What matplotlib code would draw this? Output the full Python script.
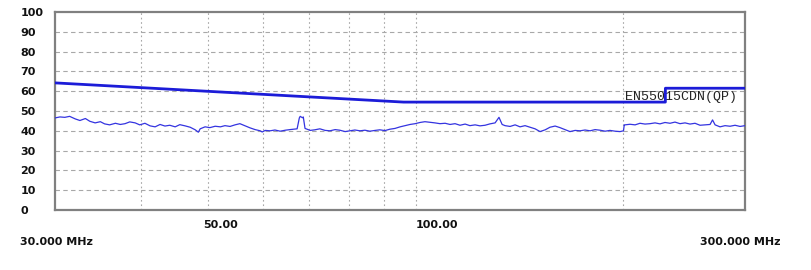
import matplotlib
matplotlib.use("Agg")
import matplotlib.pyplot as plt

freq = [30.0, 30.5, 31.0, 31.5, 32.1, 32.6, 33.2, 33.7, 34.3, 34.9,
        35.4, 36.0, 36.7, 37.3, 37.9, 38.5, 39.2, 39.8, 40.5, 41.2,
        41.9, 42.6, 43.3, 44.0, 44.8, 45.5, 46.3, 47.1, 47.9, 48.4,
        48.7, 49.5, 50.3, 51.2, 52.1, 52.9, 53.8, 54.7, 55.6, 56.6,
        57.5, 58.5, 59.5, 59.9, 60.5, 61.5, 62.5, 63.6, 64.7, 65.7,
        67.3, 67.8, 68.0, 68.5, 68.7, 69.1, 70.3, 71.4, 72.6, 73.9,
        75.1, 76.4, 77.6, 79.0, 80.3, 81.6, 83.0, 84.4, 85.8, 87.3,
        88.7, 90.2, 91.7, 93.3, 94.9, 96.5, 98.1, 99.8, 101.4, 103.1,
        104.9, 106.6, 108.4, 110.3, 112.1, 114.0, 115.9, 117.9, 119.8, 121.9,
        123.9, 126.0, 128.1, 130.3, 132.0, 132.5, 133.4, 134.7, 137.0, 139.3,
        141.6, 144.0, 146.4, 148.9, 151.4, 154.0, 156.5, 159.2, 161.8, 164.6,
        167.3, 170.2, 173.0, 175.9, 178.9, 181.9, 185.0, 188.1, 191.2, 194.5,
        197.7, 200.0, 200.5, 201.0, 204.4, 207.9, 211.3, 214.9, 218.5, 222.2,
        225.9, 229.7, 233.6, 237.5, 241.5, 245.6, 249.7, 253.9, 258.2, 262.5,
        267.0, 269.2, 271.5, 276.0, 280.7, 285.4, 290.2, 295.1, 300.0]
level = [46.5, 47.0, 46.8, 47.3, 46.0, 45.2, 46.2, 44.8, 44.0, 44.6,
         43.5, 43.0, 43.8, 43.2, 43.6, 44.5, 44.0, 43.0, 43.8, 42.5,
         42.0, 43.2, 42.4, 42.8, 42.0, 43.1, 42.5, 41.8, 40.5, 39.3,
         41.0, 42.0, 41.6, 42.3, 42.0, 42.6, 42.2, 43.0, 43.6, 42.5,
         41.5, 40.6, 40.0, 39.4, 40.2, 40.0, 40.4, 39.8, 40.3, 40.6,
         41.0, 46.5, 47.3, 46.6, 47.0, 41.2, 40.2, 40.5, 41.0, 40.2,
         40.0, 40.6, 40.3, 39.6, 40.0, 40.4, 40.0, 40.3, 39.8, 40.2,
         40.5, 40.1, 40.8, 41.2, 42.0, 42.6, 43.2, 43.6, 44.2, 44.6,
         44.3, 44.0, 43.6, 43.8, 43.2, 43.6, 42.8, 43.4, 42.6, 43.0,
         42.5, 42.8, 43.5, 44.0, 46.8, 45.5, 43.2, 42.6, 42.2, 43.0,
         42.0, 42.6, 41.8, 41.0, 39.6, 40.5, 41.8, 42.4, 41.6, 40.6,
         39.6, 40.2, 40.0, 40.4, 40.0, 40.6, 40.3, 39.8, 40.2, 39.8,
         39.6, 40.0, 43.0, 43.0, 43.3, 43.0, 43.8, 43.4, 43.6, 44.0,
         43.5, 44.2, 43.8, 44.4, 43.6, 44.0, 43.4, 43.8, 42.8, 43.0,
         43.2, 45.5, 43.0, 42.0, 42.6, 42.3, 42.8, 42.2, 42.6]

# EN55015 CDN (QP) limit line
limit_freq = [30.0, 96.0, 230.0, 230.0, 300.0]
limit_level = [64.2, 54.5, 54.5, 61.5, 61.5]
limit_name = "EN55015CDN(QP)"

y_ticks = [0, 10, 20, 30, 40, 50, 60, 70, 80, 90, 100]
grid_freq = [40, 50, 60, 70, 80, 90, 100, 200]

fig = plt.figure(figsize=(8.11, 2.70), dpi=100)
ax = fig.add_axes([55 / 811, 60 / 270, 690 / 811, 198 / 270])

ax.set_xscale("log")
ax.set_xlim(30, 300)
ax.set_ylim(0, 100)

for f in grid_freq:
    ax.axvline(f, color="#a8a8a8", lw=0.8, ls=(0, (1.5, 2.5)), zorder=1)
for v in y_ticks[1:-1]:
    ax.axhline(v, color="#a8a8a8", lw=0.8, ls=(0, (4, 3)), zorder=1)

ax.plot(freq, level, color="#3434e0", lw=0.9, zorder=3)
ax.plot(limit_freq, limit_level, color="#1c1cd8", lw=2.0, zorder=4)
ax.text(201, 57, limit_name, family="Liberation Mono", fontsize=9.5,
        color="#222222", va="center", ha="left", zorder=2)

ax.set_yticks(y_ticks)
ax.set_yticklabels([str(v) for v in y_ticks])
ax.tick_params(axis="y", length=0, pad=25)
for lab in ax.get_yticklabels():
    lab.set_horizontalalignment("left")
    lab.set_fontweight("bold")
    lab.set_fontsize(8)
    lab.set_color("#111111")

ax.set_xticks([])
ax.xaxis.set_minor_locator(matplotlib.ticker.NullLocator())
xt = ax.get_xaxis_transform()
ax.text(52.1, -0.075, "50.00", transform=xt, ha="center", va="center",
        fontsize=8, fontweight="bold", color="#111111")
ax.text(107.3, -0.075, "100.00", transform=xt, ha="center", va="center",
        fontsize=8, fontweight="bold", color="#111111")
fig.text(20 / 811, 28 / 270, "30.000 MHz", ha="left", va="center",
         fontsize=8, fontweight="bold", color="#111111")
fig.text(780 / 811, 28 / 270, "300.000 MHz", ha="right", va="center",
         fontsize=8, fontweight="bold", color="#111111")

for s in ax.spines.values():
    s.set_color("#808080")
    s.set_linewidth(1.6)

fig.savefig("out.png", dpi=100)
